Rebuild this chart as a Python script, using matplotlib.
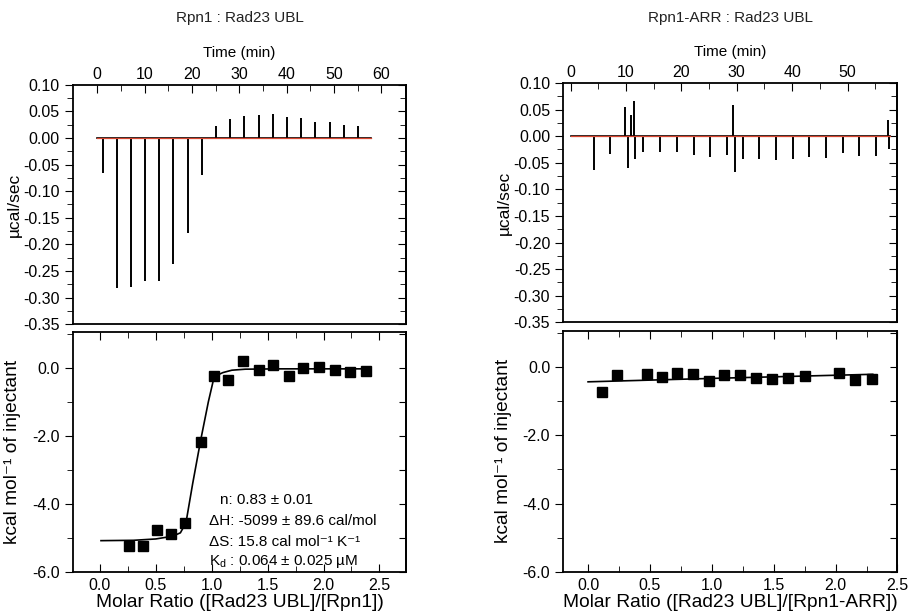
import matplotlib
matplotlib.use('Agg')
import matplotlib.pyplot as plt
from matplotlib.ticker import MultipleLocator, FixedLocator

plt.rcParams['font.family'] = ['Liberation Sans', 'DejaVu Sans']
plt.rcParams['axes.linewidth'] = 1.3

TRACE_COLOR = 'black'
BASE_COLOR = '#d8452f'

# thermogram peaks, Rpn1 : Rad23 UBL (time in min, height in ucal/sec)
left_peak_t = [1.2, 4.2, 7.2, 10.2, 13.1, 16.1, 19.2, 22.2, 25.1, 28.1,
               31.1, 34.1, 37.1, 40.1, 43.0, 46.1, 49.1, 52.1, 55.1]
left_peak_h = [-0.066, -0.282, -0.281, -0.268, -0.268, -0.237, -0.179, -0.070,
               0.022, 0.036, 0.042, 0.044, 0.045, 0.039, 0.038, 0.030, 0.030,
               0.025, 0.023]
left_trace_span = [0.0, 57.9]

# thermogram peaks, Rpn1-ARR : Rad23 UBL
right_peak_t = [4.2, 7.2, 9.8, 10.3, 10.9, 11.4, 11.7, 13.1, 16.1, 19.2, 22.2,
                25.2, 28.2, 29.4, 29.6, 31.1, 34.1, 37.1, 40.1, 43.1, 46.1,
                49.1, 52.1, 55.1, 57.2, 57.4]
right_peak_h = [-0.064, -0.033, 0.055, -0.059, 0.040, 0.066, -0.042, -0.030,
                -0.030, -0.030, -0.036, -0.040, -0.036, 0.058, -0.067, -0.042,
                -0.043, -0.044, -0.042, -0.039, -0.041, -0.031, -0.037, -0.037,
                0.030, -0.025]
right_trace_span = [0.0, 57.6]

# integrated heats, Rpn1 : Rad23 UBL
left_ratio = [0.26, 0.39, 0.51, 0.64, 0.76, 0.90, 1.02, 1.15, 1.28, 1.42,
              1.55, 1.69, 1.82, 1.96, 2.10, 2.24, 2.38]
left_heat = [-5.23, -5.23, -4.78, -4.88, -4.55, -2.19, -0.23, -0.37, 0.19,
             -0.06, 0.08, -0.25, 0.00, 0.02, -0.06, -0.11, -0.10]
left_fit_x = [0.01, 0.30, 0.50, 0.65, 0.72, 0.77, 0.83, 0.90, 0.97, 1.02,
              1.06, 1.10, 1.18, 1.30, 1.60, 2.00, 2.41]
left_fit_y = [-5.08, -5.07, -5.03, -4.95, -4.85, -4.55, -3.40, -2.15, -1.00,
              -0.29, -0.20, -0.14, -0.07, -0.04, -0.03, -0.03, -0.03]

# integrated heats, Rpn1-ARR : Rad23 UBL
right_ratio = [0.115, 0.235, 0.476, 0.60, 0.72, 0.846, 0.974, 1.095, 1.226,
               1.355, 1.488, 1.617, 1.751, 2.024, 2.158, 2.297]
right_heat = [-0.75, -0.25, -0.20, -0.30, -0.19, -0.21, -0.41, -0.25, -0.25,
              -0.32, -0.36, -0.32, -0.28, -0.19, -0.40, -0.36]
right_fit_x = [0.0, 1.0, 2.30]
right_fit_y = [-0.44, -0.34, -0.22]

fit_text = ['n: 0.83 \u00b1 0.01',
            '\u0394H: -5099 \u00b1 89.6 cal/mol',
            '\u0394S: 15.8 cal mol\u207b\u00b9 K\u207b\u00b9',
            'K$_\\mathregular{d}$ : 0.064 \u00b1 0.025 \u00b5M']

TICK_FS = 11.5
LABEL_FS = 13.8


def style_top(ax, xlim, last_minor):
    ax.set_xlim(xlim)
    ax.set_ylim(-0.35, 0.10)
    ax.xaxis.set_major_locator(MultipleLocator(10))
    ax.xaxis.set_minor_locator(FixedLocator(range(5, last_minor + 1, 10)))
    ax.yaxis.set_major_locator(MultipleLocator(0.05))
    ax.yaxis.set_minor_locator(MultipleLocator(0.025))
    ax.tick_params(axis='x', which='both', top=True, bottom=False,
                   labeltop=True, labelbottom=False, direction='in',
                   labelsize=TICK_FS, pad=2)
    ax.tick_params(axis='x', which='major', length=6)
    ax.tick_params(axis='x', which='minor', length=4)
    ax.tick_params(axis='y', which='both', direction='out', labelsize=TICK_FS)
    ax.tick_params(axis='y', which='major', length=6)
    ax.tick_params(axis='y', which='minor', length=4)
    ax.yaxis.set_major_formatter(lambda v, p: '%.2f' % v)
    ax.xaxis.set_label_position('top')
    ax.set_xlabel('Time (min)', fontsize=11, labelpad=7)
    ax.set_ylabel('\u00b5cal/sec', fontsize=12.5)
    ax.yaxis.set_label_coords(-0.155, 0.5)
    sec = ax.secondary_yaxis('right')
    sec.yaxis.set_major_locator(MultipleLocator(0.05))
    sec.yaxis.set_minor_locator(MultipleLocator(0.025))
    sec.tick_params(which='both', direction='in', labelright=False)
    sec.tick_params(which='major', length=6)
    sec.tick_params(which='minor', length=4)


def style_bottom(ax, xlim, xlabel):
    ax.set_xlim(xlim)
    ax.set_ylim(-6.0, 1.05)
    ax.xaxis.set_major_locator(MultipleLocator(0.5))
    ax.xaxis.set_minor_locator(MultipleLocator(0.25))
    ax.yaxis.set_major_locator(MultipleLocator(2.0))
    ax.yaxis.set_minor_locator(MultipleLocator(1.0))
    ax.tick_params(axis='x', which='both', top=True, bottom=True,
                   direction='in', labelsize=TICK_FS, pad=4)
    ax.tick_params(axis='x', which='major', length=6)
    ax.tick_params(axis='x', which='minor', length=4)
    ax.tick_params(axis='y', which='both', direction='out', labelsize=TICK_FS)
    ax.tick_params(axis='y', which='major', length=6)
    ax.tick_params(axis='y', which='minor', length=4)
    ax.xaxis.set_major_formatter(lambda v, p: '%.1f' % v)
    ax.yaxis.set_major_formatter(lambda v, p: '%.1f' % v)
    ax.set_xlabel(xlabel, fontsize=LABEL_FS, labelpad=1)
    ax.set_ylabel('kcal mol\u207b\u00b9 of injectant', fontsize=LABEL_FS)
    ax.yaxis.set_label_coords(-0.155, 0.5)
    sec = ax.secondary_yaxis('right')
    sec.yaxis.set_major_locator(MultipleLocator(1.0))
    sec.tick_params(which='both', direction='in', labelright=False, length=5)


def draw_trace(ax, span, peak_t, peak_h):
    ax.plot(span, [0, 0], color=TRACE_COLOR, lw=1.2, zorder=2)
    ax.vlines(peak_t, 0, peak_h, color=TRACE_COLOR, lw=1.4, zorder=2)
    ax.plot(span, [0, 0], color=BASE_COLOR, lw=0.9, zorder=3)


fig = plt.figure(figsize=(9.13, 6.15), dpi=100)

ax1 = fig.add_axes([0.080, 0.473, 0.365, 0.389])
ax2 = fig.add_axes([0.080, 0.070, 0.365, 0.390])
ax3 = fig.add_axes([0.617, 0.476, 0.366, 0.389])
ax4 = fig.add_axes([0.617, 0.070, 0.366, 0.392])

draw_trace(ax1, left_trace_span, left_peak_t, left_peak_h)
style_top(ax1, (-5.1, 65.3), 65)

draw_trace(ax3, right_trace_span, right_peak_t, right_peak_h)
style_top(ax3, (-1.3, 59.0), 55)

ax2.plot(left_fit_x, left_fit_y, color='black', lw=1.2)
ax2.plot(left_ratio, left_heat, 's', color='black', ms=6.5)
style_bottom(ax2, (-0.24, 2.74), 'Molar Ratio ([Rad23 UBL]/[Rpn1])')
text_x = [1.07, 0.98, 0.98, 0.98]
text_y = [-3.88, -4.50, -5.12, -5.70]
for s, tx, ty in zip(fit_text, text_x, text_y):
    ax2.text(tx, ty, s, fontsize=11, va='center', ha='left')

ax4.plot(right_fit_x, right_fit_y, color='black', lw=1.2)
ax4.plot(right_ratio, right_heat, 's', color='black', ms=6.5)
style_bottom(ax4, (-0.2, 2.5), 'Molar Ratio ([Rad23 UBL]/[Rpn1-ARR])')

fig.text(0.263, 0.971, 'Rpn1 : Rad23 UBL', ha='center', va='center',
         fontsize=11, color='#222222')
fig.text(0.800, 0.971, 'Rpn1-ARR : Rad23 UBL', ha='center', va='center',
         fontsize=11, color='#222222')

fig.savefig('out.png', dpi=100)
